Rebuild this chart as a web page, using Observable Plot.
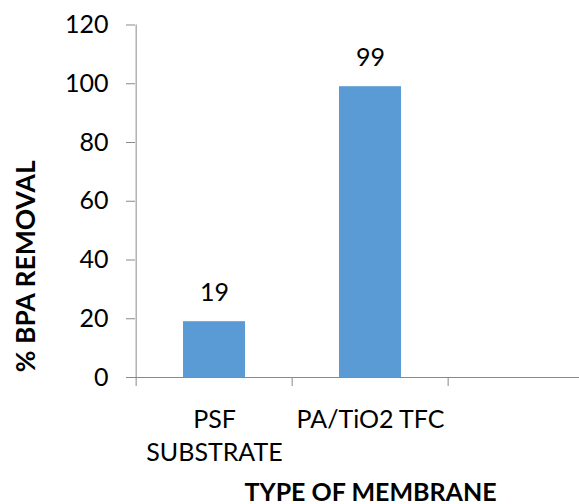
<!DOCTYPE html>
<html>
<head>
<meta charset="utf-8">
<script src="https://cdn.jsdelivr.net/npm/d3@7"></script>
<script src="https://cdn.jsdelivr.net/npm/@observablehq/plot@0.6"></script>
<style>
  html, body { margin: 0; padding: 0; background: #fff; }
</style>
</head>
<body>
<div id="chart"></div>
<script>
const categories = ["PSF\nSUBSTRATE", "PA/TiO2 TFC", ""];
const removal = [19, 99];
const yTicks = [0, 20, 40, 60, 80, 100, 120];
const yTitle = "% BPA REMOVAL";
const xTitle = "TYPE OF MEMBRANE";

const data = removal.map((v, i) => ({cat: categories[i], v}));

const W = 579, H = 504;
const mLeft = 135, mTop = 24.5, yBase = 377;
const step = 156.7;
const axisGray = "#898989";

const chart = Plot.plot({
  width: W,
  height: H,
  marginLeft: mLeft,
  marginRight: 0,
  marginTop: mTop,
  marginBottom: H - yBase,
  style: {fontFamily: "Lato, 'Open Sans', sans-serif", background: "white", color: "black"},
  x: {domain: categories, range: [mLeft, mLeft + 3 * step], paddingInner: 0.6, paddingOuter: 0.3, align: 0.5},
  y: {domain: [0, 120]},
  marks: [
    Plot.barY(data, {x: "cat", y: "v", fill: "#5B9BD5"}),
    Plot.ruleY([0], {stroke: axisGray}),
    Plot.ruleX([categories[0]], {x: d => d, dx: -step / 2, y1: 0, y2: 120, stroke: axisGray}),
    Plot.ruleX(categories, {x: d => d, dx: -step / 2, y1: 0, y2: 0, insetBottom: -9, stroke: axisGray}),
    Plot.axisY({ticks: yTicks, tickSize: 9, tickPadding: 18, fontSize: 25, stroke: axisGray, fill: "black", label: null}),
    Plot.axisX({tickSize: 0, tickPadding: 27, fontSize: 25, lineHeight: 1.32, fill: "black", label: null}),
    Plot.text(data, {x: "cat", y: "v", text: d => String(d.v), dy: -29, fontSize: 25, fill: "black"}),
    Plot.text([yTitle], {frameAnchor: "left", rotate: -90, dx: -109, dy: 65, textAnchor: "middle", lineAnchor: "middle", fontSize: 26.5, fontWeight: "bold", fill: "black"}),
    Plot.text([xTitle], {frameAnchor: "bottom", dx: 13, dy: 115, textAnchor: "middle", lineAnchor: "middle", fontSize: 25, fontWeight: "bold", fill: "black"})
  ]
});
document.getElementById("chart").appendChild(chart);
</script>
</body>
</html>
